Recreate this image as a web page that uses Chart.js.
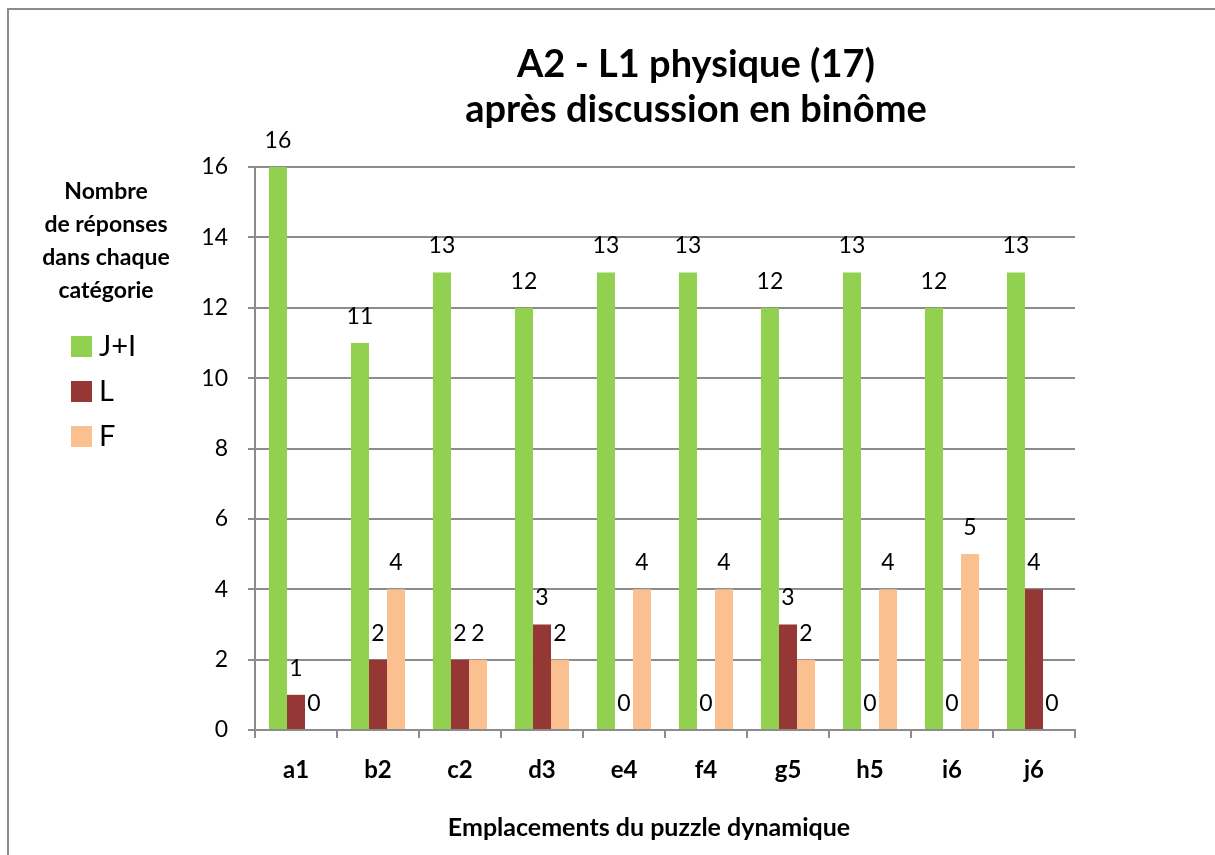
<!DOCTYPE html>
<html lang="fr">
<head>
<meta charset="utf-8">
<title>A2 - L1 physique (17)</title>
<script src="https://cdn.jsdelivr.net/npm/chart.js@4.4.1/dist/chart.umd.min.js"></script>
<style>
  html, body { margin: 0; padding: 0; background: #fff; overflow: hidden; }
  #cadre { position: absolute; left: 7px; top: 8px; width: 1400px; height: 1000px; border: 2px solid #8c8c8c; }
  #graphique { position: absolute; left: 0; top: 0; }
</style>
</head>
<body>
<div id="cadre"></div>
<canvas id="graphique" width="1215" height="855"></canvas>
<script>
var emplacements = ['a1', 'b2', 'c2', 'd3', 'e4', 'f4', 'g5', 'h5', 'i6', 'j6'];
var serieJI = [16, 11, 13, 12, 13, 13, 12, 13, 12, 13];
var serieL  = [1, 2, 2, 3, 0, 0, 3, 0, 0, 4];
var serieF  = [0, 4, 2, 2, 4, 4, 2, 4, 5, 0];
var nomsSeries = ['J+I', 'L', 'F'];
var couleurs = ['#92D050', '#953735', '#FAC090'];
var titre = ['A2 - L1 physique (17)', 'après discussion en binôme'];
var titreLegende = ['Nombre', 'de réponses', 'dans chaque', 'catégorie'];
var titreAxeX = 'Emplacements du puzzle dynamique';

var police = 'Lato, "Open Sans", sans-serif';
var gris = '#8c8c8c';

// valeurs au-dessus des barres, titre, légende et titre de l'axe
var textesPlugin = {
    id: 'textes',
    afterDatasetsDraw: function (chart) {
        var ctx = chart.ctx;
        ctx.save();
        ctx.fillStyle = '#000';
        ctx.font = '23px ' + police;
        ctx.textAlign = 'center';
        ctx.textBaseline = 'bottom';
        chart.data.datasets.forEach(function (ds, i) {
            chart.getDatasetMeta(i).data.forEach(function (bar, j) {
                ctx.fillText(String(ds.data[j]), bar.x, bar.y - 15);
            });
        });
        ctx.restore();
    },
    afterDraw: function (chart) {
        var ctx = chart.ctx;
        ctx.save();
        ctx.fillStyle = '#000';
        ctx.textAlign = 'center';
        ctx.textBaseline = 'middle';

        ctx.font = 'bold 38px ' + police;
        ctx.fillText(titre[0], 696, 65);
        ctx.fillText(titre[1], 696, 110);

        ctx.font = 'bold 23px ' + police;
        titreLegende.forEach(function (t, i) {
            ctx.fillText(t, 106, 192 + i * 33);
        });

        ctx.textAlign = 'left';
        ctx.font = '29px ' + police;
        chart.data.datasets.forEach(function (ds, i) {
            var y = 346 + i * 45;
            ctx.fillStyle = ds.backgroundColor;
            ctx.fillRect(71, y - 10, 21, 21);
            ctx.fillStyle = '#000';
            ctx.fillText(ds.label, 99, y + 1);
        });

        ctx.textAlign = 'center';
        ctx.font = 'bold 25px ' + police;
        ctx.fillText(titreAxeX, 649, 828);
        ctx.restore();
    }
};

new Chart(document.getElementById('graphique'), {
    type: 'bar',
    data: {
        labels: emplacements,
        datasets: [
            { label: nomsSeries[0], data: serieJI, backgroundColor: couleurs[0] },
            { label: nomsSeries[1], data: serieL, backgroundColor: couleurs[1] },
            { label: nomsSeries[2], data: serieF, backgroundColor: couleurs[2] }
        ]
    },
    options: {
        responsive: false,
        animation: false,
        devicePixelRatio: 1,
        layout: { padding: { left: 200, right: 140, top: 167, bottom: 55 } },
        datasets: {
            bar: { categoryPercentage: 0.66, barPercentage: 1.0, borderWidth: 0 }
        },
        plugins: {
            legend: { display: false },
            title: { display: false },
            tooltip: { enabled: false }
        },
        scales: {
            x: {
                afterFit: function (s) { s.height = 70; },
                grid: { offset: true, drawOnChartArea: false, color: gris, lineWidth: 2, tickLength: 8 },
                border: { color: gris, width: 2 },
                ticks: { color: '#000', padding: 18, font: { family: police, size: 24, weight: 'bold' } }
            },
            y: {
                min: 0,
                max: 16,
                afterFit: function (s) { s.width = 55; },
                grid: { color: gris, lineWidth: 2, tickLength: 7 },
                border: { color: gris, width: 2 },
                ticks: { stepSize: 2, color: '#000', padding: 20, font: { family: police, size: 23 } }
            }
        }
    },
    plugins: [textesPlugin]
});
</script>
</body>
</html>
